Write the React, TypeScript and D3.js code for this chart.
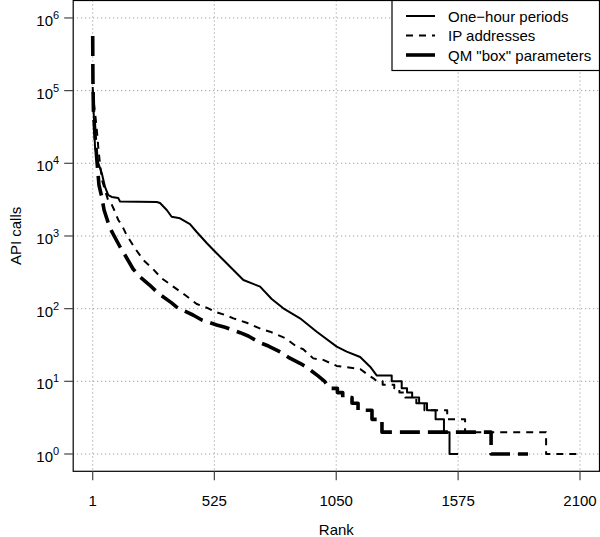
import React, { useRef, useEffect } from "react";
import * as d3 from "d3";

// ranks / API calls
const hourRanks = [1, 11, 25, 40, 54, 68, 83, 111, 119, 277, 291, 320, 341, 377, 420, 449, 492, 521, 564, 607, 650, 722, 772, 822, 894, 966, 1052, 1095, 1153, 1196, 1225, 1289, 1289, 1332, 1332, 1355, 1355, 1377, 1377, 1407, 1407, 1441, 1441, 1478, 1478, 1514, 1514, 1538, 1538, 1575];
const hourCalls = [112000, 16800, 10100, 7360, 4720, 3660, 3440, 3330, 2970, 2940, 2840, 2280, 1840, 1750, 1460, 1135, 801, 642, 467, 341, 248, 201, 136, 101, 73.6, 48.2, 30, 25.6, 21.6, 15.9, 12, 12, 10, 10, 8, 8, 7, 7, 6, 6, 5, 5, 4, 4, 3, 3, 2, 2, 1, 1];

const ipRanks = [1, 7, 13, 20, 26, 33, 41, 54, 67, 83, 97, 111, 126, 147, 183, 219, 262, 298, 348, 399, 449, 499, 528, 571, 607, 664, 729, 765, 829, 880, 908, 951, 994, 1052, 1095, 1153, 1188, 1210, 1225, 1250, 1250, 1300, 1300, 1322, 1322, 1347, 1347, 1395, 1395, 1430, 1430, 1528, 1528, 1605, 1605, 1954, 1954, 2100];
const ipCalls = [102000, 63500, 43400, 26100, 15200, 9480, 5890, 4290, 3130, 2700, 2160, 1660, 1420, 1030, 678, 467, 348, 262, 201, 154, 116, 101, 90.8, 81.8, 73.6, 64.1, 52, 48.2, 39.5, 30, 27.6, 20.7, 19.7, 16.3, 15.6, 14.8, 12.2, 11, 10, 10, 9, 9, 8, 8, 7, 7, 6, 6, 5, 5, 4, 4, 3, 3, 2, 2, 1, 1];

const boxRanks = [1, 2, 4, 11, 19, 28, 40, 50, 68, 84, 119, 140, 175, 205, 255, 282, 341, 368, 433, 471, 535, 571, 636, 671, 722, 758, 815, 844, 894, 923, 973, 1000, 1023, 1055, 1055, 1078, 1078, 1118, 1118, 1144, 1144, 1204, 1204, 1247, 1247, 1717, 1717, 1876];
const boxCalls = [565000, 140000, 54000, 24500, 11100, 5030, 3440, 2280, 1510, 1135, 705, 547, 351, 273, 199, 164, 120, 102, 81.8, 69.8, 59.6, 55.4, 46.7, 42, 34, 30.6, 24.8, 21.4, 17.7, 15.6, 11.8, 10, 8, 8, 7, 7, 6, 6, 5, 5, 4, 4, 3, 3, 2, 2, 1, 1];

const xTicks = [1, 525, 1050, 1575, 2100];
const yExponents = [0, 1, 2, 3, 4, 5, 6];

const seriesNames = ["One\u2212hour periods", "IP addresses", 'QM "box" parameters'];

const FONT = "'Liberation Sans', Arial, Helvetica, sans-serif";

export default function App() {
  const svgRef = useRef<SVGSVGElement>(null);

  useEffect(() => {
    const left = 73.2, right = 599.5, top = 0.5, bottom = 471.3;

    const svg = d3.select(svgRef.current);
    svg.selectAll("*").remove();

    const x = d3.scaleLinear().domain([-83, 2184]).range([left, right]);
    const y = d3.scaleLog().domain([Math.pow(10, -0.238), Math.pow(10, 6.247)]).range([bottom, 0]);

    const grid = svg.append("g").attr("stroke", "#8c8c8c").attr("stroke-dasharray", "1,3").attr("stroke-width", 1);
    xTicks.forEach((t) => {
      grid.append("line").attr("x1", x(t)).attr("x2", x(t)).attr("y1", top).attr("y2", bottom);
    });
    yExponents.forEach((e) => {
      grid.append("line").attr("x1", left).attr("x2", right).attr("y1", y(Math.pow(10, e))).attr("y2", y(Math.pow(10, e)));
    });

    const series = [
      { ranks: hourRanks, calls: hourCalls, width: 2, dash: null },
      { ranks: ipRanks, calls: ipCalls, width: 2, dash: "7,6" },
      { ranks: boxRanks, calls: boxCalls, width: 3.6, dash: "20,8" },
    ];

    const line = d3.line<[number, number]>()
      .x((d) => x(d[0]))
      .y((d) => y(d[1]));

    svg.append("defs").append("clipPath").attr("id", "plot-clip")
      .append("rect").attr("x", left).attr("y", top).attr("width", right - left).attr("height", bottom - top);

    const lines = svg.append("g").attr("clip-path", "url(#plot-clip)");
    series.forEach((s) => {
      const pts = s.ranks.map((r, i) => [r, s.calls[i]] as [number, number]);
      lines.append("path")
        .attr("d", line(pts))
        .attr("fill", "none")
        .attr("stroke", "#000")
        .attr("stroke-width", s.width)
        .attr("stroke-dasharray", s.dash)
        .attr("stroke-linejoin", "round");
    });

    // plot box
    svg.append("rect")
      .attr("x", left).attr("y", top)
      .attr("width", right - left).attr("height", bottom - top)
      .attr("fill", "none").attr("stroke", "#000").attr("stroke-width", 1.2);

    // x axis
    const xa = svg.append("g");
    xTicks.forEach((t) => {
      xa.append("line").attr("x1", x(t)).attr("x2", x(t)).attr("y1", bottom).attr("y2", bottom + 9)
        .attr("stroke", "#444").attr("stroke-width", 1.2);
      xa.append("text").attr("x", x(t)).attr("y", bottom + 35)
        .attr("text-anchor", "middle").style("font-family", FONT).style("font-size", "15px")
        .text(String(t));
    });
    svg.append("text").attr("x", (left + right) / 2).attr("y", 535)
      .attr("text-anchor", "middle").style("font-family", FONT).style("font-size", "15px").text("Rank");

    // y axis
    const ya = svg.append("g");
    yExponents.forEach((e) => {
      const yy = y(Math.pow(10, e));
      ya.append("line").attr("x1", left - 9).attr("x2", left).attr("y1", yy).attr("y2", yy)
        .attr("stroke", "#444").attr("stroke-width", 1.2);
      ya.append("text").attr("x", 53).attr("y", yy + 8)
        .attr("text-anchor", "end").style("font-family", FONT).style("font-size", "15px").text("10");
      ya.append("text").attr("x", 53).attr("y", yy + 1)
        .attr("text-anchor", "start").style("font-family", FONT).style("font-size", "11px").text(String(e));
    });
    svg.append("text")
      .attr("transform", `translate(21,${(top + bottom) / 2}) rotate(-90)`)
      .attr("text-anchor", "middle").style("font-family", FONT).style("font-size", "15px").text("API calls");

    // legend
    const lg = svg.append("g");
    lg.append("rect").attr("x", 392).attr("y", top).attr("width", right - 392).attr("height", 70)
      .attr("fill", "#fff").attr("stroke", "#000").attr("stroke-width", 1.2);
    const rowY = [16, 35.5, 55];
    series.forEach((s, i) => {
      lg.append("line").attr("x1", 406).attr("x2", 435).attr("y1", rowY[i]).attr("y2", rowY[i])
        .attr("stroke", "#000").attr("stroke-width", s.width)
        .attr("stroke-dasharray", i === 2 ? null : s.dash);
      lg.append("text").attr("x", 448).attr("y", rowY[i] + 5.5)
        .style("font-family", FONT).style("font-size", "15px").text(seriesNames[i]);
    });
  }, []);

  return (
    <div style={{ position: "absolute", left: 0, top: 0 }}>
      <svg ref={svgRef} width={600} height={537} style={{ display: "block", background: "#fff" }} />
    </div>
  );
}
